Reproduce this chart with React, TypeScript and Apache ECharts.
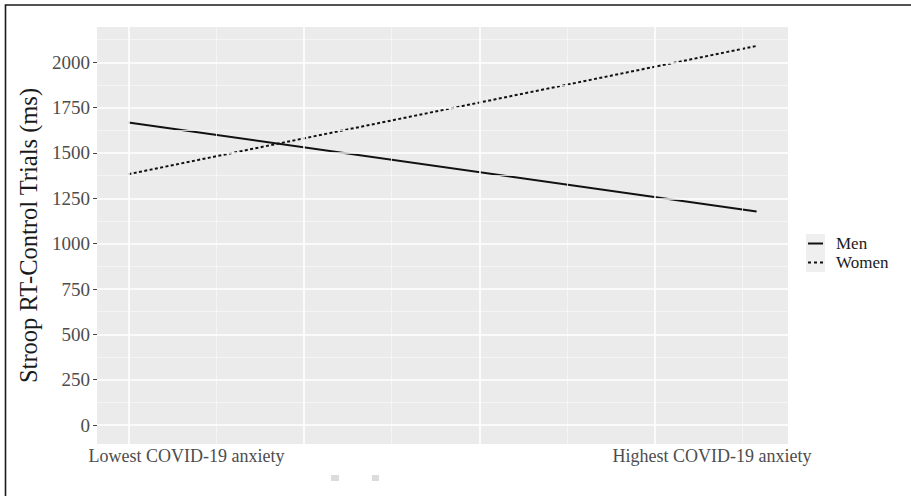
import React, { useEffect, useRef } from "react";
import * as echarts from "echarts";

// ---- data ----
const xPoints = [1, 4.58];
const menRT = [1668, 1177];
const womenRT = [1383, 2090];
const seriesNames = ["Men", "Women"];
const yTicks = [0, 250, 500, 750, 1000, 1250, 1500, 1750, 2000];
const yMinorGrid = [125, 375, 625, 875, 1125, 1375, 1625, 1875, 2125];
const xMajorGrid = [1, 2, 3, 4];
const xMinorGrid = [1.5, 2.5, 3.5, 4.5];
const xTickLabels = ["Lowest COVID-19 anxiety", "Highest COVID-19 anxiety"];
const yTitle = "Stroop RT-Control Trials (ms)";

const SERIF = "'Liberation Serif', 'Times New Roman', serif";

export default function App() {
  const ref = useRef<HTMLDivElement>(null);
  useEffect(() => {
    document.body.style.margin = "0";
    if (!ref.current) return;
    const chart = echarts.init(ref.current, undefined, { renderer: "svg" });
    const gridLines = (xs: number[], ys: number[]) => [
      ...xs.map((v) => ({ xAxis: v })),
      ...ys.map((v) => ({ yAxis: v })),
    ];
    chart.setOption({
      animation: false,
      backgroundColor: "#ffffff",
      grid: {
        left: 97,
        top: 27,
        right: 123,
        bottom: 52,
        show: true,
        backgroundColor: "#ebebeb",
        borderWidth: 0,
      },
      xAxis: {
        type: "value",
        min: 0.821,
        max: 4.759,
        axisLine: { show: false },
        axisTick: { show: false },
        splitLine: { show: false },
        axisLabel: {
          customValues: [1.331, 4.326],
          formatter: (v: number) => (v < 3 ? xTickLabels[0] : xTickLabels[1]),
          color: "#4d4d4d",
          fontFamily: SERIF,
          fontSize: 18,
          margin: 3,
        },
      },
      yAxis: {
        type: "value",
        min: -104.5,
        max: 2194.5,
        name: yTitle,
        nameLocation: "middle",
        nameGap: 46,
        nameTextStyle: { color: "#1a1a1a", fontFamily: SERIF, fontSize: 24.5 },
        axisLine: { show: false },
        splitLine: { show: false },
        axisTick: {
          show: true,
          customValues: yTicks,
          length: 4,
          lineStyle: { color: "#444", width: 1 },
        },
        axisLabel: {
          customValues: yTicks,
          formatter: (v: number) => String(v),
          color: "#4d4d4d",
          fontFamily: SERIF,
          fontSize: 19,
          margin: 7,
        },
      },
      legend: {
        data: [
          { name: seriesNames[0], icon: "rect" },
          {
            name: seriesNames[1],
            icon: "path://M0,0h3v2h-3z M6,0h3v2h-3z M12,0h3v2h-3z",
          },
        ],
        orient: "vertical",
        left: 808,
        top: 235,
        padding: 0,
        itemWidth: 15,
        itemHeight: 2,
        itemGap: 2,
        textStyle: {
          color: "#1a1a1a",
          fontFamily: SERIF,
          fontSize: 17,
          padding: [0, 0, 0, 8],
        },
      },
      graphic: [
        {
          type: "rect",
          shape: { x: 806, y: 234, width: 19, height: 38 },
          style: { fill: "#efefef" },
          z: -1,
          silent: true,
        },
        {
          type: "polyline",
          shape: { points: [[5.5, 496], [5.5, 5], [911, 5]] },
          style: { stroke: "#1a1a1a", lineWidth: 1.6, fill: "none" },
          silent: true,
        },
        {
          type: "rect",
          shape: { x: 331, y: 475, width: 8, height: 6 },
          style: { fill: "#dcdcdc" },
          silent: true,
        },
        {
          type: "rect",
          shape: { x: 372, y: 475, width: 7, height: 6 },
          style: { fill: "#dcdcdc" },
          silent: true,
        },
      ],
      series: [
        {
          type: "line",
          data: [],
          z: 1,
          silent: true,
          markLine: {
            silent: true,
            symbol: ["none", "none"],
            label: { show: false },
            emphasis: { disabled: true },
            lineStyle: { color: "#f7f7f7", width: 0.8, type: "solid" },
            data: gridLines(xMinorGrid, yMinorGrid),
          },
        },
        {
          type: "line",
          data: [],
          z: 1,
          silent: true,
          markLine: {
            silent: true,
            symbol: ["none", "none"],
            label: { show: false },
            emphasis: { disabled: true },
            lineStyle: { color: "#ffffff", width: 1.6, type: "solid" },
            data: gridLines(xMajorGrid, yTicks),
          },
        },
        {
          name: seriesNames[0],
          type: "line",
          z: 3,
          symbol: "none",
          data: xPoints.map((x, i) => [x, menRT[i]]),
          lineStyle: { color: "#111111", width: 2, type: "solid" },
          itemStyle: { color: "#111111" },
        },
        {
          name: seriesNames[1],
          type: "line",
          z: 3,
          symbol: "none",
          data: xPoints.map((x, i) => [x, womenRT[i]]),
          lineStyle: { color: "#111111", width: 2, type: [3, 2.4] },
          itemStyle: { color: "#111111" },
        },
      ],
    });
    return () => chart.dispose();
  }, []);
  return <div ref={ref} style={{ width: 911, height: 496 }} />;
}
